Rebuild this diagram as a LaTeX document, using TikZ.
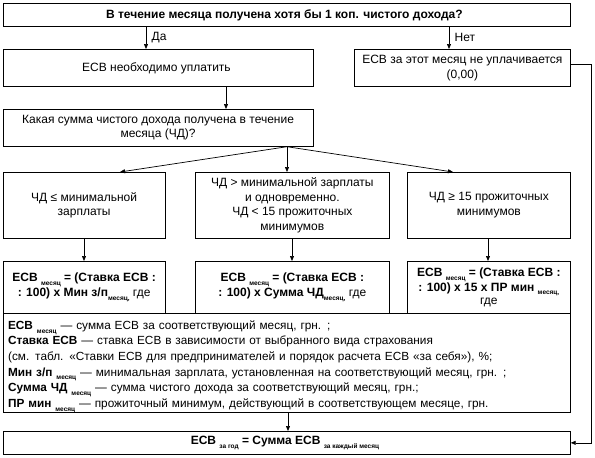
\documentclass[tikz,border=0pt]{standalone}
\usepackage{fontspec}
\setmainfont{Liberation Sans}
\usepackage{tikz}
\usetikzlibrary{positioning, arrows.meta}
\usepackage{xcolor}

\newcommand{\idx}[1]{\raisebox{-0.6ex}{\fontsize{6.5}{6.5}\selectfont\bfseries #1}}

\begin{document}
\begin{tikzpicture}[
    x=1pt, y=-1pt,
    box/.style={rectangle, draw=black, line width=0.7pt, anchor=north west, inner sep=0pt, align=center, font=\fontsize{12}{14.5}\selectfont},
    arrow/.style={-{Triangle[length=5pt, width=4pt]}, line width=0.7pt, draw=black},
    link/.style={line width=0.7pt, draw=black}
]
\useasboundingbox (0,0) rectangle (595,458);

% Question 1
\node (income) [box, minimum width=567.5pt, minimum height=23pt] at (2.5,3) {
    \textbf{В течение месяца получена хотя бы 1 коп. чистого дохода?}
};

% Yes / No
\node (pay) [box, minimum width=310.5pt, minimum height=37pt] at (2.5,49) {
    ЕСВ необходимо уплатить
};
\node (nopay) [box, minimum width=216pt, minimum height=37pt] at (354,49) {
    ЕСВ за этот месяц не уплачивается\\(0,00)
};

% Question 2
\node (amount) [box, minimum width=310.5pt, minimum height=37pt] at (2.5,109) {
    Какая сумма чистого дохода получена в течение\\месяца (ЧД)?
};

% Cases
\node (low) [box, minimum width=162.5pt, minimum height=66pt] at (2.5,172) {
    ЧД ≤ минимальной\\зарплаты
};
\node (mid) [box, minimum width=194pt, minimum height=66pt] at (195,172) {
    ЧД > минимальной зарплаты\\и одновременно.\\ЧД < 15 прожиточных\\минимумов
};
\node (high) [box, minimum width=163pt, minimum height=66pt] at (407,172) {
    ЧД ≥ 15 прожиточных\\минимумов
};

% Formulas
\node (lowcalc) [box, minimum width=162.5pt, minimum height=52pt] at (2.5,261) {
    \textbf{ЕСВ \idx{месяц} = (Ставка ЕСВ :}\\\textbf{: 100) х Мин з/п\idx{месяц,}} где
};
\node (midcalc) [box, minimum width=194pt, minimum height=52pt] at (195,261) {
    \textbf{ЕСВ \idx{месяц} = (Ставка ЕСВ :}\\\textbf{: 100) х Сумма ЧД\idx{месяц,}} где
};
\node (highcalc) [box, minimum width=163pt, minimum height=52pt, font=\fontsize{12}{13.5}\selectfont] at (407,261) {
    \textbf{ЕСВ \idx{месяц} = (Ставка ЕСВ :}\\\textbf{: 100) х 15 х ПР мин \idx{месяц,}}\\где
};

% Legend
\node (legend) [box, minimum width=567.5pt, minimum height=96pt, align=left, text width=557pt, inner xsep=5pt, font=\fontsize{11.8}{15.6}\selectfont] at (2.5,313) {
    \rule{0pt}{16pt}\textbf{ЕСВ} \idx{месяц} — сумма ЕСВ за соответствующий месяц, грн. ;\\
    \textbf{Ставка ЕСВ} — ставка ЕСВ в зависимости от выбранного вида страхования\\
    (см. табл. «Ставки ЕСВ для предпринимателей и порядок расчета ЕСВ «за себя»), \%;\\
    \textbf{Мин з/п} \idx{месяц} — минимальная зарплата, установленная на соответствующий месяц, грн. ;\\
    \textbf{Сумма ЧД} \idx{месяц} — сумма чистого дохода за соответствующий месяц, грн.;\\
    \textbf{ПР мин} \idx{месяц} — прожиточный минимум, действующий в соответствующем месяце, грн.
};

% Total
\node (total) [box, minimum width=567.5pt, minimum height=23pt] at (2.5,431) {
    \textbf{ЕСВ} \idx{за год} \textbf{= Сумма ЕСВ} \idx{за каждый месяц}
};

% Connecting Arrows
\draw [arrow] ([xshift=143.5pt]income.south west) -- ([xshift=143.5pt]pay.north west) node[midway, right=2pt, font=\fontsize{12}{14}\selectfont] {Да};
\draw [arrow] ([xshift=446.5pt]income.south west) -- ([xshift=95pt]nopay.north west) node[midway, right=2pt, font=\fontsize{12}{14}\selectfont] {Нет};
\draw [arrow] ([xshift=223.5pt]pay.south west) -- ([xshift=223.5pt]amount.north west);
\draw [arrow] ([xshift=284.5pt]amount.south west) -- ([xshift=117.5pt]low.north west);
\draw [arrow] ([xshift=284.5pt]amount.south west) -- ([xshift=92pt]mid.north west);
\draw [arrow] ([xshift=284.5pt]amount.south west) -- ([xshift=46pt]high.north west);
\draw [arrow] ([xshift=81.5pt]low.south west) -- ([xshift=81.5pt]lowcalc.north west);
\draw [arrow] ([xshift=97pt]mid.south west) -- ([xshift=97pt]midcalc.north west);
\draw [arrow] ([xshift=81pt]high.south west) -- ([xshift=81pt]highcalc.north west);
\draw [arrow] ([xshift=285.5pt]legend.south west) -- ([xshift=285.5pt]total.north west);
\draw [arrow] ([yshift=4pt]nopay.east) -- ++(21,0) |- (total.east);

\end{tikzpicture}
\end{document}
